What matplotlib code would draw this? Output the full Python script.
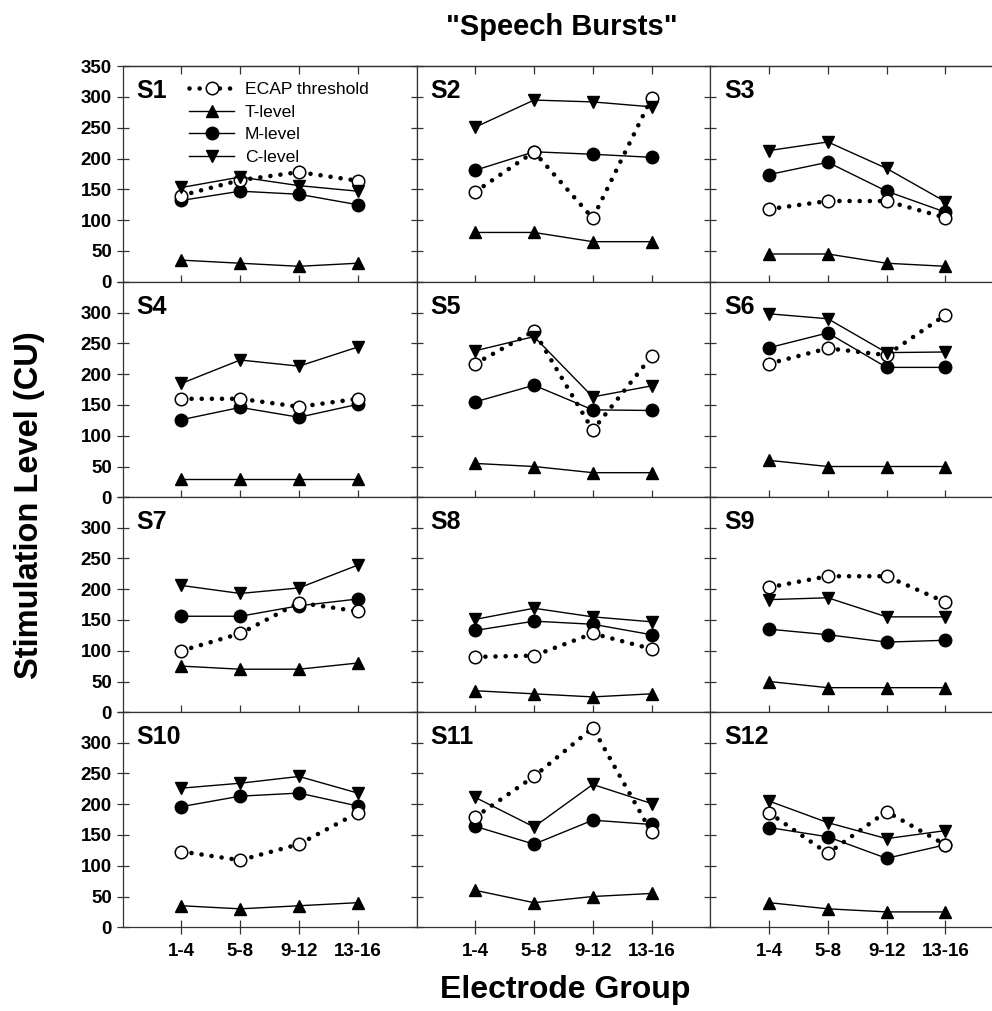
import matplotlib
matplotlib.use("Agg")
import matplotlib.pyplot as plt

plt.rcParams['font.family'] = ['Liberation Sans', 'DejaVu Sans']

groups = ["1-4", "5-8", "9-12", "13-16"]
subjects = ["S1", "S2", "S3", "S4", "S5", "S6", "S7", "S8", "S9", "S10", "S11", "S12"]

ecap = [
    [140, 165, 178, 164],
    [146, 211, 103, 298],
    [118, 131, 131, 104],
    [160, 160, 147, 160],
    [217, 270, 109, 229],
    [217, 242, 231, 296],
    [100, 128, 178, 164],
    [90, 92, 128, 103],
    [203, 221, 221, 179],
    [123, 109, 135, 186],
    [179, 245, 324, 154],
    [186, 120, 188, 134],
]
t_level = [
    [35, 30, 25, 30],
    [80, 80, 65, 65],
    [45, 45, 30, 25],
    [30, 30, 30, 30],
    [55, 50, 40, 40],
    [60, 50, 50, 50],
    [75, 70, 70, 80],
    [35, 30, 25, 30],
    [50, 40, 40, 40],
    [35, 30, 35, 40],
    [60, 40, 50, 55],
    [40, 30, 25, 25],
]
m_level = [
    [132, 147, 142, 125],
    [181, 211, 207, 202],
    [174, 194, 147, 113],
    [126, 146, 130, 151],
    [155, 182, 142, 141],
    [243, 267, 211, 211],
    [156, 156, 173, 184],
    [133, 148, 143, 126],
    [135, 126, 114, 117],
    [196, 213, 218, 197],
    [164, 135, 174, 167],
    [162, 147, 112, 134],
]
c_level = [
    [153, 170, 156, 147],
    [251, 295, 292, 284],
    [213, 227, 184, 130],
    [185, 223, 213, 244],
    [238, 261, 163, 181],
    [298, 290, 235, 236],
    [206, 193, 202, 239],
    [151, 169, 155, 147],
    [183, 186, 155, 155],
    [226, 234, 245, 218],
    [211, 163, 232, 201],
    [205, 170, 144, 157],
]
y_ticks = [0, 50, 100, 150, 200, 250, 300, 350]

W, H = 992, 1011
fig = plt.figure(figsize=(W / 100, H / 100), dpi=100)

col_left = [122.7, 416.5, 710.3]
col_w = 293.8
row_bottom = [281.7, 497.3, 712.3, 927.3]
row_h = 215.5

xpos = [1, 2, 3, 4]
ms = 9
for i, subj in enumerate(subjects):
    r, c = divmod(i, 3)
    ax = fig.add_axes([col_left[c] / W, (H - row_bottom[r]) / H, col_w / W, row_h / H])
    ax.set_xlim(0, 5)
    ax.set_ylim(0, 350)
    for sp in ax.spines.values():
        sp.set_linewidth(0.9)
        sp.set_color('#333333')
    ax.plot(xpos, t_level[i], color='black', lw=1.0, marker='^', ms=ms,
            mfc='black', mec='black', label='T-level', zorder=2)
    ax.plot(xpos, m_level[i], color='black', lw=1.0, marker='o', ms=ms,
            mfc='black', mec='black', label='M-level', zorder=3)
    ax.plot(xpos, ecap[i], color='black', lw=3.3, linestyle=(0, (0.01, 2.2)),
            dash_capstyle='round', marker='o', ms=ms, mfc='white', mec='black',
            mew=1.1, label='ECAP threshold', zorder=4)
    ax.plot(xpos, c_level[i], color='black', lw=1.0, marker='v', ms=ms,
            mfc='black', mec='black', label='C-level', zorder=5)

    ax.set_xticks(xpos)
    ax.set_yticks(y_ticks)
    ax.tick_params(axis='x', direction='inout', length=10, width=0.9, color='#333333', pad=6)
    ax.tick_params(axis='y', direction='inout', length=8.5, width=0.9, color='#333333', pad=3.5)
    if r == 3:
        ax.set_xticklabels(groups, fontsize=13.5, fontweight='bold')
    else:
        ax.set_xticklabels([])
    if c == 0:
        labels = [str(v) for v in y_ticks]
        if r > 0:
            labels[-1] = ''
        ax.set_yticklabels(labels, fontsize=13.5, fontweight='bold')
    else:
        ax.set_yticklabels([])
    if r == 0:
        top = ax.secondary_xaxis('top')
        top.set_xticks(xpos)
        top.set_xticklabels([])
        top.tick_params(direction='in', length=6, width=0.9, color='#333333')
        top.spines['top'].set_linewidth(0.9)
        top.spines['top'].set_color('#333333')

    ax.text(14 / col_w, 1 - 25 / row_h, subj, transform=ax.transAxes,
            fontsize=18, fontweight='bold', ha='left', va='center')

    if i == 0:
        handles, labs = ax.get_legend_handles_labels()
        order = [2, 0, 1, 3]
        ax.legend([handles[k] for k in order], [labs[k] for k in order],
                  loc='upper left', bbox_to_anchor=(0.225, 0.927), frameon=False,
                  fontsize=12.6, handlelength=2.6, handletextpad=0.6,
                  labelspacing=0.42, borderpad=0, borderaxespad=0, numpoints=1)

fig.text(562 / W, (H - 27) / H, '"Speech Bursts"', fontsize=21, fontweight='bold',
         ha='center', va='center')
fig.text(565 / W, (H - 990) / H, 'Electrode Group', fontsize=23, fontweight='bold',
         ha='center', va='center')
fig.text(30 / W, (H - 505) / H, 'Stimulation Level (CU)', fontsize=23.5, fontweight='bold',
         ha='center', va='center', rotation=90)

fig.savefig('out.png', dpi=100)
